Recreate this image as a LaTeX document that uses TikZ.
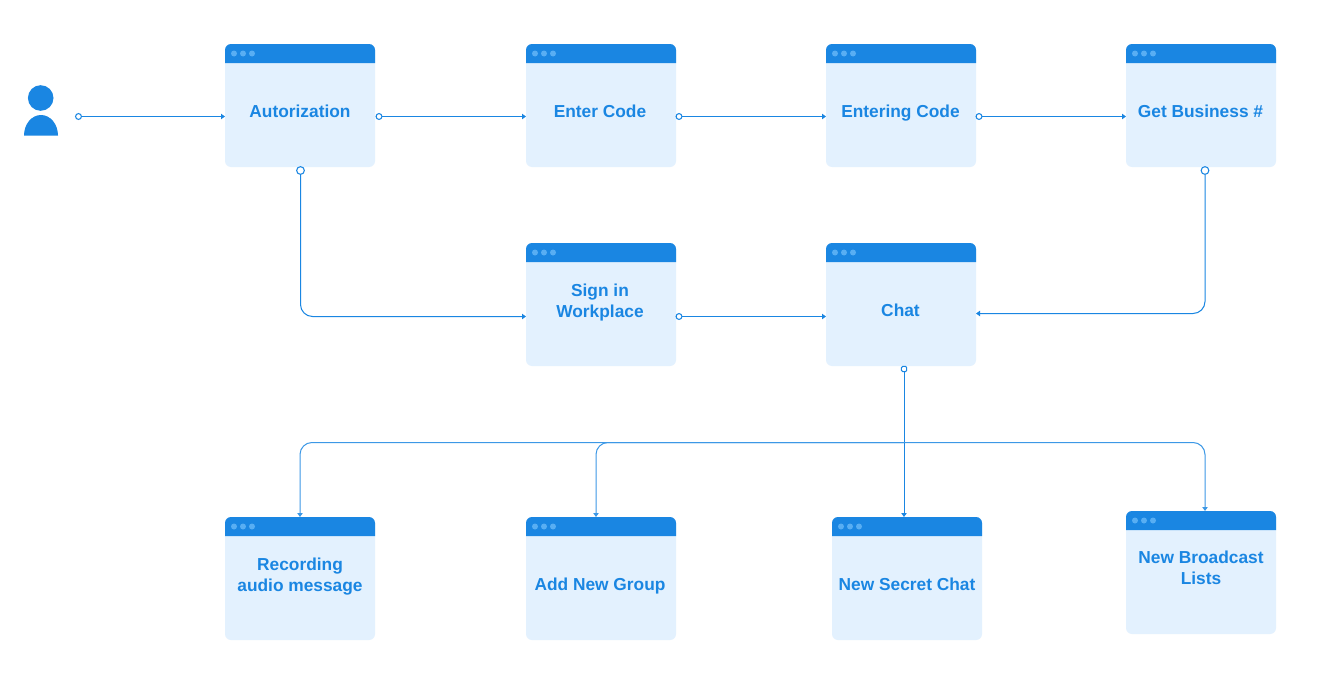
\documentclass[tikz,border=0pt]{standalone}
\usepackage{fontspec}
\setmainfont{Liberation Sans}
\usetikzlibrary{arrows.meta}
\definecolor{hdr}{HTML}{1A86E2}
\definecolor{bodyc}{HTML}{E3F1FE}
\definecolor{dotc}{HTML}{58AEF3}
\tikzset{
  winbody/.style={fill=bodyc,draw=none,rounded corners=4.5pt,minimum width=112.5pt,minimum height=92.25pt,inner sep=0pt,outer sep=0pt,anchor=north west},
  wintext/.style={text=hdr,font=\fontsize{13pt}{15.75pt}\selectfont\bfseries,align=center,inner sep=0pt},
  singleline/.style={wintext,anchor=base},
  conn/.style={draw=hdr,line width=0.75pt,-{Triangle[length=3pt,width=4pt]},rounded corners=9pt},
  busconn/.style={conn,draw=hdr!85!white},
  port/.style={circle,draw=hdr,fill=white,line width=0.8pt,minimum size=4.4pt,inner sep=0pt},
  bigport/.style={port,minimum size=5.8pt},
  sqport/.style={draw=hdr,fill=white,line width=0.8pt,rounded corners=1pt,minimum size=4pt,inner sep=0pt},
}
\newcommand{\winbox}[3]{%
  \begin{scope}[shift={(#2,#3)}]
    \node[winbody] (#1) at (0,0) {};
    \fill[hdr] (0,19) -- (0,6) arc[start angle=180,end angle=90,x radius=6,y radius=-6] -- (144,0) arc[start angle=90,end angle=0,x radius=6,y radius=-6] -- (150,19) -- cycle;
    \fill[dotc] (9,9.5) circle[radius=2.25pt] (18,9.5) circle[radius=2.25pt] (27,9.5) circle[radius=2.25pt];
  \end{scope}}
\begin{document}
\begin{tikzpicture}[x=0.75pt,y=-0.75pt]
\useasboundingbox (0,0) rectangle (1322,678);
\fill[white] (0,0) rectangle (1322,678);
% person
\fill[hdr] (40.7,98) circle[radius=9.6pt];
\fill[hdr] (24,135.5) arc[start angle=180,end angle=0,x radius=17,y radius=-20.5] -- cycle;
\coordinate (user) at (78.5,116.5);
% windows
\winbox{auth}{225}{44}
\winbox{enter}{526}{44}
\winbox{entering}{826}{44}
\winbox{biz}{1126}{44}
\winbox{sign}{526}{243}
\winbox{chat}{826}{243}
\winbox{rec}{225}{517}
\winbox{grp}{526}{517}
\winbox{sec}{832}{517}
\winbox{brd}{1126}{511}
% texts
\node[singleline] (tauth) at (300,117) {Autorization};
\node[singleline] (tenter) at (600,117) {Enter Code};
\node[singleline] (tentering) at (900.5,117) {Entering Code};
\node[singleline] (tbiz) at (1200.5,117) {Get Business \#};
\node[wintext] (tsign) at (600,302.5) {Sign in\\Workplace};
\node[singleline] (tchat) at (900.5,316) {Chat};
\node[wintext] (trec) at (300,576.5) {Recording\\audio message};
\node[singleline] (tgrp) at (600,590.5) {Add New Group};
\node[singleline] (tsec) at (907,590.5) {New Secret Chat};
\node[wintext] (tbrd) at (1201,568) {New Broadcast\\Lists};
% ports
\node[port] (p0) at (user) {};
\node[port] (p1) at (379,116.5) {};
\node[port] (p2) at (679,116.5) {};
\node[port] (p3) at (979,116.5) {};
\node[bigport] (p4) at (300.5,170.5) {};
\node[bigport] (p5) at (1205,170.5) {};
\node[port] (p6) at (679,316.5) {};
\node[sqport] (p7) at (904,369) {};
\coordinate (busR) at (1205,442.5);
\coordinate (busL) at (300,442.5);
\coordinate (busG) at (596,442.5);
\coordinate (busM) at (904,442.5);
% connectors
\draw[conn] (p0) -- (auth.west |- p0);
\draw[conn] (p1) -- (enter.west |- p1);
\draw[conn] (p2) -- (entering.west |- p2);
\draw[conn] (p3) -- (biz.west |- p3);
\draw[conn] (p4) -- (p4 |- p6) -- (sign.west |- p6);
\draw[conn] (p6) -- (chat.west |- p6);
\draw[conn] (p5) -- (1205,313.5) -- (chat.east |- 0,313.5);
\draw[conn] (p7) -- (p7 |- sec.north);
\draw[busconn] (busM) -- (busL) -- (busL |- rec.north);
\draw[busconn] (busM) -- (busG) -- (busG |- grp.north);
\draw[busconn] (busM) -- (busR) -- (busR |- brd.north);
\end{tikzpicture}
\end{document}
